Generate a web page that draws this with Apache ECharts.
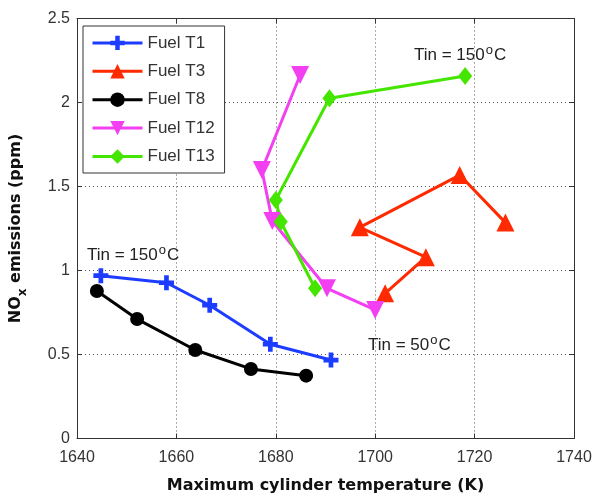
<!DOCTYPE html>
<html>
<head>
<meta charset="utf-8">
<script src="https://cdn.jsdelivr.net/npm/echarts@6/dist/echarts.min.js"></script>
<style>
  html, body { margin: 0; padding: 0; background: #fff; }
  #main { width: 595px; height: 495px; }
</style>
</head>
<body>
<div id="main"></div>
<script>
// data: [temperature K, NOx ppm]
var t1 = [[1644.8, 0.969], [1658.0, 0.927], [1666.7, 0.793], [1678.9, 0.561], [1691.1, 0.467]];
var t3 = [[1726.2, 1.285], [1717.0, 1.568], [1696.9, 1.257], [1710.2, 1.079], [1702.0, 0.864]];
var t8 = [[1644.0, 0.878], [1652.1, 0.711], [1663.8, 0.527], [1675.0, 0.414], [1686.1, 0.374]];
var t12 = [[1684.9, 2.164], [1677.2, 1.598], [1679.3, 1.295], [1690.3, 0.894], [1700.0, 0.765]];
var t13 = [[1718.1, 2.158], [1690.8, 2.025], [1680.0, 1.420], [1681.0, 1.290], [1687.9, 0.894]];
var seriesNames = ['Fuel T1', 'Fuel T3', 'Fuel T8', 'Fuel T12', 'Fuel T13'];

var FONT = '"Liberation Sans", Arial, sans-serif';
var BOLD = '"DejaVu Sans", Arial, sans-serif';
var plusPath = 'path://M-1,-3.2 L1,-3.2 L1,-1 L3.2,-1 L3.2,1 L1,1 L1,3.2 L-1,3.2 L-1,1 L-3.2,1 L-3.2,-1 L-1,-1 Z';
var downTri = 'path://M0,0 L10,0 L5,9 Z';

var chart = echarts.init(document.getElementById('main'));

function mk(name, data, color, symbol, size) {
  return {
    name: name,
    type: 'line',
    data: data,
    symbol: symbol,
    symbolSize: size,
    showSymbol: true,
    lineStyle: { color: color, width: 3 },
    itemStyle: { color: color, borderWidth: 0 },
    color: color,
    animation: false,
    z: 3
  };
}

function sup(text, x, y) {
  return {
    type: 'text',
    left: x,
    top: y,
    z: 10,
    style: {
      text: '{n|Tin = ' + text + '}{s|o}{n|C}',
      rich: {
        n: { fontSize: 17, fontFamily: FONT, fill: '#222', verticalAlign: 'bottom' },
        s: { fontSize: 13, fontFamily: FONT, fill: '#222', verticalAlign: 'bottom', padding: [0, 1, 7, 1] }
      }
    }
  };
}

var axisCommon = {
  type: 'value',
  axisLine: { show: true, onZero: false, lineStyle: { color: '#333', width: 1 } },
  axisTick: { show: true, inside: true, length: 5, lineStyle: { color: '#333' } },
  axisLabel: { color: '#333', fontSize: 16, fontFamily: FONT },
  splitLine: { show: true, lineStyle: { color: '#555', type: [1, 3], width: 1 } }
};

chart.setOption({
  backgroundColor: '#fff',
  animation: false,
  grid: { left: 77, right: 21, top: 18.5, bottom: 56.5, containLabel: false, outerBoundsMode: 'none' },
  legend: {
    orient: 'vertical',
    left: 83,
    top: 26,
    data: seriesNames,
    itemWidth: 50,
    itemHeight: 18,
    itemGap: 11.4,
    padding: [8.4, 10, 8, 8],
    borderColor: '#333',
    borderWidth: 1,
    backgroundColor: '#fff',
    lineStyle: { width: 3 },
    textStyle: { fontSize: 17, fontFamily: FONT, color: '#333' },
    z: 20
  },
  xAxis: [
    Object.assign({}, axisCommon, {
      min: 1640, max: 1740, interval: 20,
      name: 'Maximum cylinder temperature (K)',
      nameLocation: 'middle',
      nameGap: 39,
      nameTextStyle: { fontSize: 16, fontWeight: 'bold', fontFamily: BOLD, color: '#111' },
      axisLabel: { color: '#333', fontSize: 16, fontFamily: FONT, margin: 11, formatter: function (v) { return String(v); } }
    }),
    Object.assign({}, axisCommon, {
      position: 'top', min: 1640, max: 1740, interval: 20,
      axisLabel: { show: false }, splitLine: { show: false }
    })
  ],
  yAxis: [
    Object.assign({}, axisCommon, {
      min: 0, max: 2.5, interval: 0.5,
      name: '{a|NO}{b|x}{a| emissions (ppm)}',
      nameLocation: 'middle',
      nameGap: 48,
      nameRotate: 90,
      nameTextStyle: {
        rich: {
          a: { fontSize: 16, fontWeight: 'bold', fontFamily: BOLD, color: '#111', verticalAlign: 'bottom', padding: [0, 0, 5, 0] },
          b: { fontSize: 12, fontWeight: 'bold', fontFamily: BOLD, color: '#111', verticalAlign: 'bottom' }
        }
      },
      axisLabel: { color: '#333', fontSize: 16, fontFamily: FONT, margin: 7 }
    }),
    Object.assign({}, axisCommon, {
      position: 'right', min: 0, max: 2.5, interval: 0.5,
      axisLabel: { show: false }, splitLine: { show: false }
    })
  ],
  series: [
    mk('Fuel T1', t1, '#1c3cff', plusPath, 15),
    mk('Fuel T3', t3, '#ff2a00', 'triangle', 18),
    mk('Fuel T8', t8, '#000000', 'circle', 14),
    mk('Fuel T12', t12, '#f23ff2', downTri, 18),
    mk('Fuel T13', t13, '#44e600', 'diamond', [14, 18])
  ],
  graphic: [
    sup('150', 414, 44),
    sup('150', 87, 244),
    sup('50', 368, 334)
  ]
});
</script>
</body>
</html>
